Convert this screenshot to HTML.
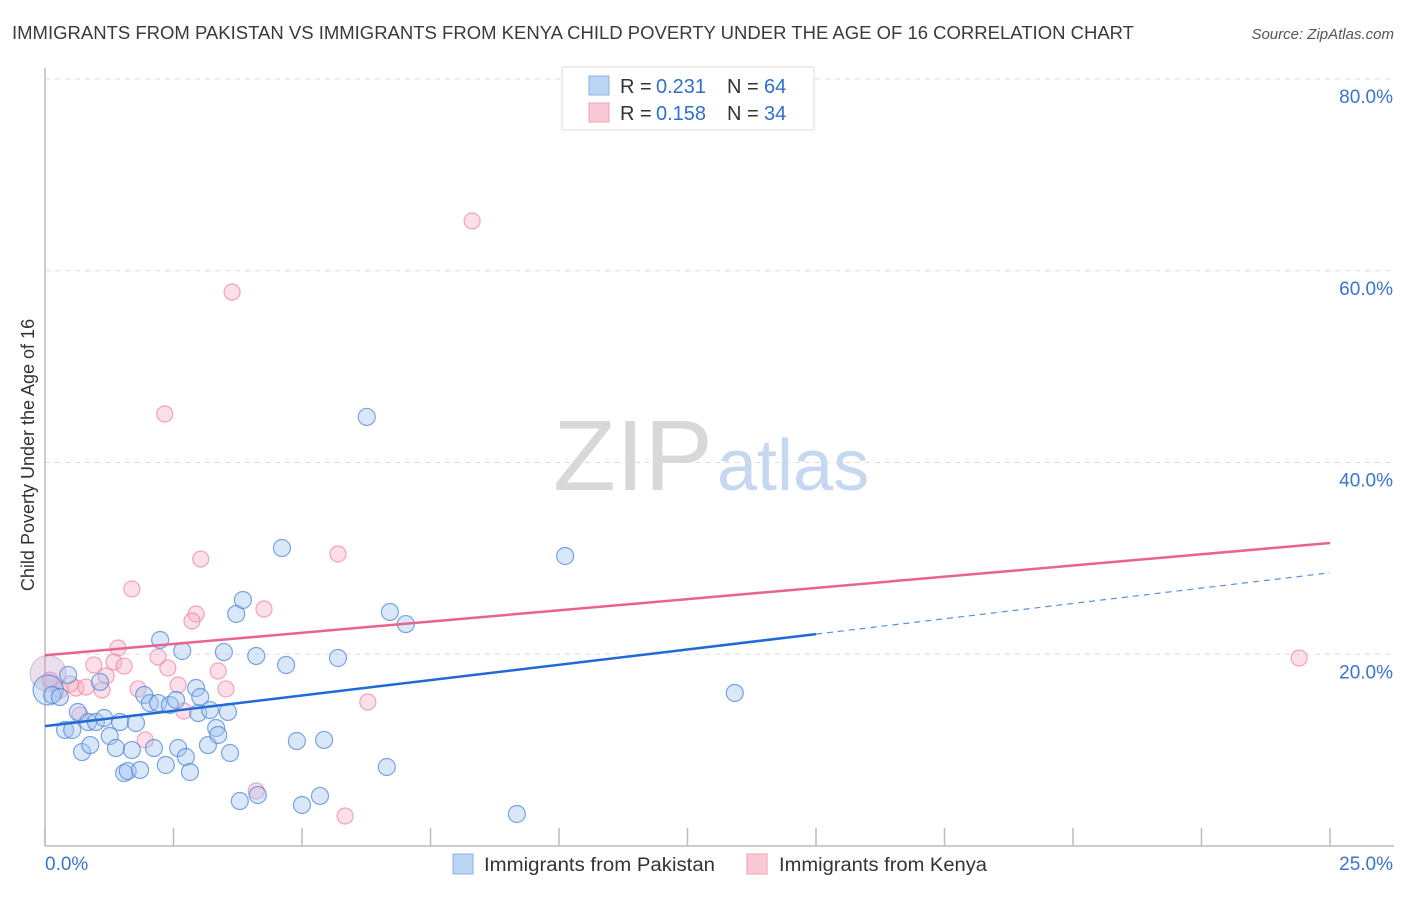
<!DOCTYPE html>
<html><head><meta charset="utf-8">
<style>
body{margin:0;background:#fff;font-family:"Liberation Sans",sans-serif;}
svg text{font-family:"Liberation Sans",sans-serif;}
</style></head>
<body>
<svg id="chart" width="1406" height="892" viewBox="0 0 1406 892" xmlns="http://www.w3.org/2000/svg">
<text x="12" y="39" font-size="18" fill="#3a3a3a" textLength="1122" lengthAdjust="spacingAndGlyphs">IMMIGRANTS FROM PAKISTAN VS IMMIGRANTS FROM KENYA CHILD POVERTY UNDER THE AGE OF 16 CORRELATION CHART</text>
<text x="1394" y="39" font-size="15" fill="#555" font-style="italic" text-anchor="end">Source: ZipAtlas.com</text>
<g>
<text x="553" y="490" font-size="100" fill="#d8d8d8" font-family="Liberation Serif, serif" textLength="160" lengthAdjust="spacingAndGlyphs">ZIP</text>
<text x="717" y="490" font-size="72" fill="#c5d8ef">atlas</text>
</g>
<g id="grid"></g>
<g id="axes"></g>
<g id="points"></g>
<g id="lines"></g>
<text transform="translate(34,455) rotate(-90)" font-size="18" fill="#333" text-anchor="middle">Child Poverty Under the Age of 16</text>
<g>
<rect x="562" y="67" width="252" height="63" fill="#fff" stroke="#ddd"/>
<g>
<rect x="589" y="76" width="20" height="19" fill="#bcd4f3" stroke="#8ab2e6"/>
<text x="620" y="93" font-size="20" fill="#333">R = </text>
<text x="656" y="93" font-size="20" fill="#2f6fcf">0.231</text>
<text x="727" y="93" font-size="20" fill="#333">N = </text>
<text x="764" y="93" font-size="20" fill="#2f6fcf">64</text>
</g>
<g>
<rect x="589" y="103" width="20" height="19" fill="#fbc8d6" stroke="#f0a0b8"/>
<text x="620" y="120" font-size="20" fill="#333">R = </text>
<text x="656" y="120" font-size="20" fill="#2f6fcf">0.158</text>
<text x="727" y="120" font-size="20" fill="#333">N = </text>
<text x="764" y="120" font-size="20" fill="#2f6fcf">34</text>
</g>
</g>
<g>
<rect x="453" y="854" width="20" height="20" fill="#bcd4f3" stroke="#8ab2e6"/>
<text x="484" y="871" font-size="19" fill="#333" textLength="231" lengthAdjust="spacingAndGlyphs">Immigrants from Pakistan</text>
<rect x="747" y="854" width="20" height="20" fill="#fbc8d6" stroke="#f0a0b8"/>
<text x="779" y="871" font-size="19" fill="#333" textLength="208" lengthAdjust="spacingAndGlyphs">Immigrants from Kenya</text>
</g>
</svg>
<script>
const blueX=[0.06,0.14,0.29,0.45,0.39,0.53,0.64,0.72,0.84,0.88,0.99,1.07,1.15,1.26,1.38,1.46,1.54,1.61,1.69,1.77,1.85,1.93,2.04,2.12,2.20,2.24,2.35,2.43,2.55,2.59,2.67,2.74,2.82,2.94,2.98,3.02,3.17,3.21,3.33,3.37,3.48,3.56,3.60,3.72,3.79,3.85,4.11,4.14,4.69,4.61,4.90,5.00,5.35,5.43,5.70,6.26,6.65,6.71,7.02,9.18,10.12,13.42];
const blueY=[16.27,15.75,15.54,17.84,12.10,12.10,13.98,9.80,12.93,10.53,12.93,17.11,13.35,11.47,10.22,12.93,7.61,7.82,10.01,12.83,7.93,15.75,14.91,10.22,14.91,21.49,8.45,14.71,15.23,10.22,20.34,9.28,7.72,16.48,13.87,15.54,10.53,14.18,12.31,11.58,20.23,13.98,9.70,24.20,4.69,25.66,19.82,5.32,18.88,31.08,10.95,4.28,5.22,11.06,19.61,44.75,8.24,24.41,23.15,3.34,30.25,15.96];
const pinkX=[8.31,3.64,2.33,3.03,5.70,1.69,4.26,2.94,2.86,1.42,2.20,0.95,1.34,1.54,1.19,2.39,3.37,2.59,1.81,0.60,0.80,1.11,0.29,3.52,2.70,0.68,1.95,6.28,4.11,5.84,24.40,0.10,0.49];
const pinkY=[65.19,57.78,45.06,29.93,30.46,26.81,24.72,24.20,23.47,20.65,19.71,18.88,19.19,18.77,17.73,18.57,18.25,16.79,16.38,16.48,16.58,16.27,16.27,16.38,14.08,13.66,11.06,15.02,5.74,3.13,19.61,17.31,16.90];
const yTicks=[20,40,60,80];
const yTickLabels=["20.0%","40.0%","60.0%","80.0%"];
const xTicks=[0,2.5,5,7.5,10,12.5,15,17.5,20,22.5,25];
const xEndLabels=["0.0%","25.0%"];
const blueLine=[12.5,0.64,15]; // intercept, slope, solid-until
const pinkLine=[19.9,0.468];

const NS="http://www.w3.org/2000/svg";
const X=v=>45+v/25*1285;
const Y=v=>846-v/80*767;
function mk(tag,attrs,parent){const e=document.createElementNS(NS,tag);for(const k in attrs)e.setAttribute(k,attrs[k]);document.getElementById(parent).appendChild(e);return e;}

yTicks.forEach((t,i)=>{
  const g=mk('line',{x1:45,x2:1394,y1:Y(t),y2:Y(t),stroke:'#ddd','stroke-dasharray':'5,5'},'grid');
  
  
  const l=mk('text',{x:1393,y:Y(t)+24,'font-size':19,fill:'#3a74d0','text-anchor':'end'},'grid');
  l.textContent=yTickLabels[i];
  
  
});
const ax=mk('line',{x1:45,x2:1394,y1:846,y2:846,stroke:'#bbb','stroke-width':1.5},'axes');


const ay=mk('line',{x1:45,x2:45,y1:68,y2:846,stroke:'#bbb','stroke-width':1.5},'axes');


xTicks.forEach(t=>{
  const tk=mk('line',{x1:X(t),x2:X(t),y1:828,y2:846,stroke:'#bbb','stroke-width':1.5},'axes');
  
  
});
const xl0=mk('text',{x:45,y:870,'font-size':19,fill:'#3a74d0'},'axes');xl0.textContent=xEndLabels[0];


const xl1=mk('text',{x:1393,y:870,'font-size':19,fill:'#3a74d0','text-anchor':'end'},'axes');xl1.textContent=xEndLabels[1];



pinkX.forEach((x,i)=>{
  const c=mk('circle',{cx:X(x),cy:Y(pinkY[i]),r:8,fill:'rgba(248,176,198,0.4)',stroke:'rgba(236,130,160,0.7)','stroke-width':1.2},'points');
  
  
});
const big=mk('circle',{cx:X(0.06),cy:Y(18),r:18,fill:'rgba(200,160,200,0.35)',stroke:'rgba(160,140,200,0.5)'},'points');


blueX.forEach((x,i)=>{
  const c=mk('circle',{cx:X(x),cy:Y(blueY[i]),r:i===0?15:8.5,fill:'rgba(160,196,240,0.4)',stroke:'rgba(70,130,215,0.7)','stroke-width':1.2},'points');
  
  
});

const bf=x=>blueLine[0]+blueLine[1]*x;
const pf=x=>pinkLine[0]+pinkLine[1]*x;
const pl=mk('line',{x1:X(0),y1:Y(pf(0)),x2:X(25),y2:Y(pf(25)),stroke:'#e8638f','stroke-width':2.5},'lines');


const bl=mk('line',{x1:X(0),y1:Y(bf(0)),x2:X(blueLine[2]),y2:Y(bf(blueLine[2])),stroke:'#1f6ad6','stroke-width':2.5},'lines');


const bd=mk('line',{x1:X(blueLine[2]),y1:Y(bf(blueLine[2])),x2:X(25),y2:Y(bf(25)),stroke:'#5a8fdc','stroke-width':1.2,'stroke-dasharray':'6,5'},'lines');


</script>
</body></html>
